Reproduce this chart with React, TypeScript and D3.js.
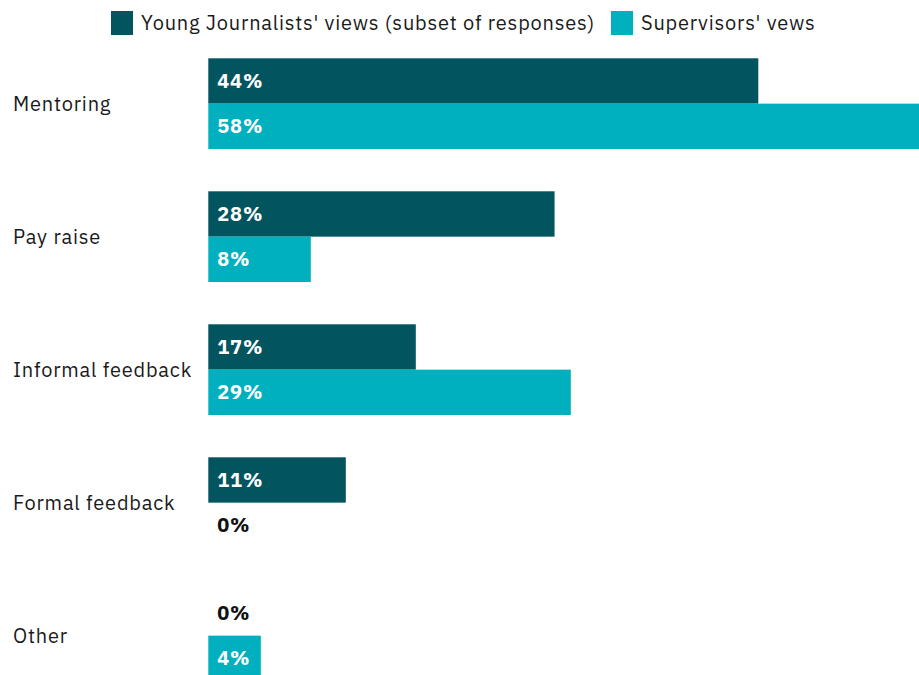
import React from "react";
import * as d3 from "d3";

const categories = ["Mentoring", "Pay raise", "Informal feedback", "Formal feedback", "Other"];
const seriesNames = ["Young Journalists' views (subset of responses)", "Supervisors' vews"];
const youngValues = [44.0, 27.7, 16.6, 11.0, 0];
const supervisorValues = [58.0, 8.2, 29.0, 0, 4.2];
const seriesColors = ["#02545F", "#00B0BF"];

const W = 919;
const H = 675;
const FONT = "'IBM Plex Sans', 'Noto Sans', 'Open Sans', sans-serif";

export default function App() {
  const x0 = 208.3;
  const x = d3.scaleLinear().domain([0, 60]).range([x0, x0 + 60 * 12.5]);
  const y = d3
    .scaleBand<string>()
    .domain(categories)
    .range([58.3, 58.3 + 5 * 133 - 42.3])
    .paddingInner(42.3 / 133)
    .paddingOuter(0);
  const ySub = d3
    .scaleBand<string>()
    .domain(seriesNames)
    .range([0, y.bandwidth()])
    .padding(0);
  const seriesValues = [youngValues, supervisorValues];

  return (
    <svg
      width={W}
      height={H}
      style={{ position: "absolute", left: 0, top: 0, fontFamily: FONT }}
    >
      <rect width={W} height={H} fill="#ffffff" />
      {/* legend */}
      <g>
        <rect x={111} y={11} width={22} height={24} fill={seriesColors[0]} />
        <text x={141} y={30} fontSize={20} letterSpacing={0.8} fill="#1a1a1a">
          {seriesNames[0]}
        </text>
        <rect x={611} y={11} width={22} height={24} fill={seriesColors[1]} />
        <text x={641} y={30} fontSize={20} letterSpacing={0.8} fill="#1a1a1a">
          {seriesNames[1]}
        </text>
      </g>
      {categories.map((c, i) => {
        const gy = y(c)!;
        return (
          <g key={c}>
            <text
              x={13}
              y={gy + y.bandwidth() / 2 + 7}
              fontSize={20}
              letterSpacing={0.8}
              fill="#1a1a1a"
            >
              {c}
            </text>
            {seriesNames.map((s, j) => {
              const v = seriesValues[j][i];
              const by = gy + ySub(s)!;
              const bh = ySub.bandwidth();
              return (
                <g key={s}>
                  {v > 0 && (
                    <rect
                      x={x(0)}
                      y={by}
                      width={x(v) - x(0)}
                      height={bh}
                      fill={seriesColors[j]}
                    />
                  )}
                  <text
                    x={x(0) + 9}
                    y={by + bh / 2 + 7}
                    fontSize={20}
                    fontWeight="bold"
                    letterSpacing={0.8}
                    fill={v > 0 ? "#ffffff" : "#111111"}
                  >
                    {Math.round(v) + "%"}
                  </text>
                </g>
              );
            })}
          </g>
        );
      })}
    </svg>
  );
}
